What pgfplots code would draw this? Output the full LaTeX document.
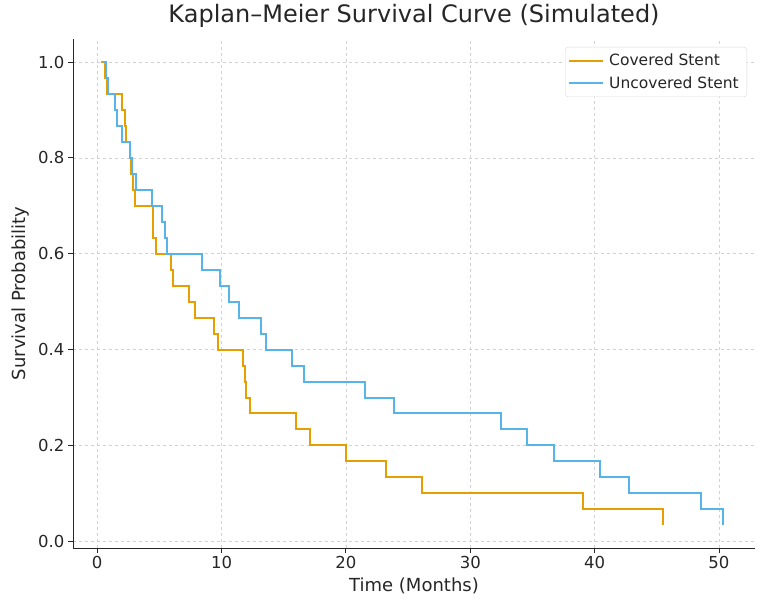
\documentclass[border=0pt]{standalone}
\usepackage{pgfplots}
\pgfplotsset{compat=1.18}
\usepackage{fontspec}
\setmainfont{DejaVu Sans}
\definecolor{cov}{HTML}{E69F00}
\definecolor{unc}{HTML}{56B4E9}
\definecolor{txt}{HTML}{262626}
\begin{document}
\begin{tikzpicture}
\useasboundingbox (-73pt,-59pt) rectangle (692pt,548pt);
\begin{axis}[
  at={(0pt,0pt)}, anchor=south west,
  scale only axis, width=682pt, height=509pt,
  xmin=-1.95, xmax=52.9, ymin=-0.014, ymax=1.048,
  axis x line*=bottom, axis y line*=left,
  axis line style={line width=0.9pt, color=txt},
  tick align=outside, major tick length=5pt,
  tick style={line width=0.9pt, color=txt},
  xtick={0,10,20,30,40,50},
  ytick={0,0.2,0.4,0.6,0.8,1.0},
  yticklabel style={/pgf/number format/fixed, /pgf/number format/precision=1, /pgf/number format/fixed zerofill},
  /pgf/number format/assume math mode=true,
  ticklabel style={font=\fontsize{16.5}{19}\selectfont, color=txt},
  grid=major,
  major grid style={dashed, color=gray!35, line width=0.6pt},
  title={Kaplan–Meier Survival Curve (Simulated)},
  title style={font=\fontsize{24}{28}\selectfont, color=txt, at={(axis description cs:0.5,1)}, anchor=base, yshift=10pt},
  xlabel={Time (Months)},
  xlabel style={font=\fontsize{18}{21}\selectfont, color=txt, at={(axis description cs:0.5,0)}, anchor=base, yshift=-43pt},
  ylabel={Survival Probability},
  ylabel style={font=\fontsize{18}{21}\selectfont, color=txt, at={(axis description cs:-0.07,0.5)}, anchor=base, rotate=0},
  legend style={at={(axis description cs:1,1)}, anchor=north east, xshift=-8pt, yshift=-8pt,
    draw=gray!30, rounded corners=3pt, fill=white, font=\fontsize{15.5}{18}\selectfont, text=txt,
    inner xsep=3pt, inner ysep=5pt, row sep=5pt, cells={anchor=west},
    nodes={inner xsep=5pt}},
  legend image code/.code={\draw[#1] (0pt,0pt) -- (34pt,0pt);},
]
\addplot[const plot, color=cov, line width=2pt] coordinates {
(0.3,1.0) (0.65,0.9667) (0.8,0.9333) (2.0,0.9) (2.2,0.8667) (2.3,0.8333)
(2.6,0.8) (2.7,0.7667) (2.85,0.7333) (3.0,0.7) (4.45,0.6667) (4.5,0.6333)
(4.7,0.6) (5.9,0.5667) (6.1,0.5333) (7.4,0.5) (7.9,0.4667) (9.35,0.4333)
(9.7,0.4) (11.7,0.3667) (11.85,0.3333) (12.0,0.3) (12.3,0.2667) (16.0,0.2333)
(17.1,0.2) (20.0,0.1667) (23.2,0.1333) (26.1,0.1) (39.1,0.0667) (45.5,0.0333)
};
\addlegendentry{Covered Stent}
\addplot[const plot, color=unc, line width=2pt] coordinates {
(0.5,1.0) (0.7,0.9667) (0.9,0.9333) (1.45,0.9) (1.6,0.8667) (2.0,0.8333)
(2.65,0.8) (2.8,0.7667) (3.1,0.7333) (4.4,0.7) (5.2,0.6667) (5.45,0.6333)
(5.65,0.6) (8.4,0.5667) (9.9,0.5333) (10.6,0.5) (11.4,0.4667) (13.15,0.4333)
(13.55,0.4) (15.7,0.3667) (16.6,0.3333) (21.5,0.3) (23.85,0.2667) (32.5,0.2333)
(34.6,0.2) (36.75,0.1667) (40.4,0.1333) (42.8,0.1) (48.55,0.0667) (50.35,0.0333)
};
\addlegendentry{Uncovered Stent}
\end{axis}
\end{tikzpicture}
\end{document}
